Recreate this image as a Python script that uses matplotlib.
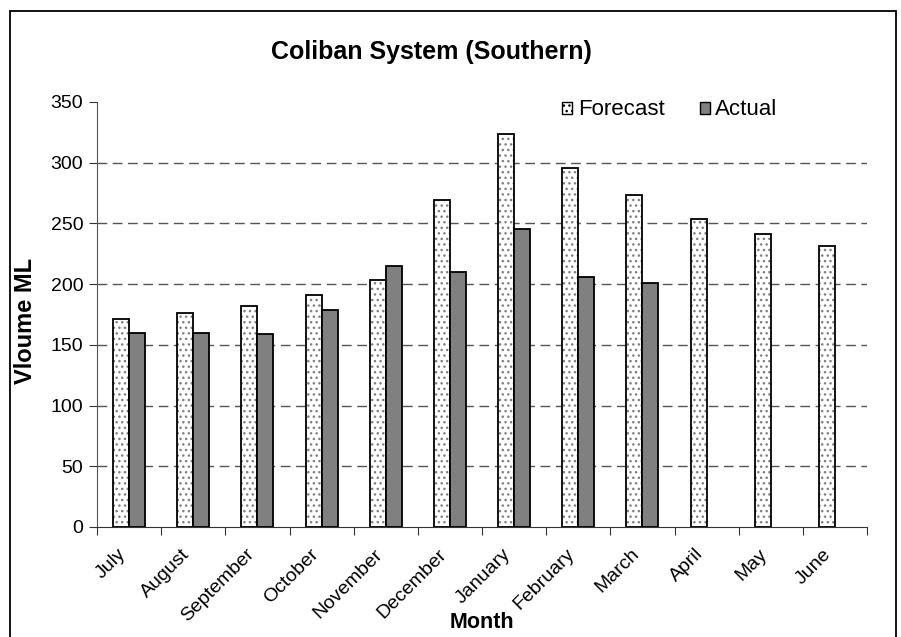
import numpy as np
import matplotlib.pyplot as plt
from matplotlib.patches import Rectangle, Patch

months = ["July", "August", "September", "October", "November", "December",
          "January", "February", "March", "April", "May", "June"]
forecast = [171, 176, 182, 191, 203, 269, 324, 296, 273, 254, 241, 231]
actual = [160, 160, 159, 179, 215, 210, 245, 206, 201, None, None, None]

plt.rcParams['font.family'] = ['Liberation Sans', 'DejaVu Sans']

fig = plt.figure(figsize=(9.01, 6.37), dpi=100)
ax = fig.add_axes([0.1077, 0.1727, 0.8546, 0.6672])

x = np.arange(len(months))
w = 0.25
fx = x + 0.375
ax_pos = [(i + 0.625, v) for i, v in enumerate(actual) if v is not None]

# forecast: dotted fill in grey, then black outline on top
ax.bar(fx, forecast, width=w, color='white', hatch='...', edgecolor='#808080',
       linewidth=0, zorder=3)
ax.bar(fx, forecast, width=w, fill=False, edgecolor='black', linewidth=1.3, zorder=4)
ax.bar([p[0] for p in ax_pos], [p[1] for p in ax_pos], width=w, color='#808080',
       edgecolor='black', linewidth=1.3, zorder=4)

ax.set_xlim(0, 12)
ax.set_ylim(0, 350)
ax.set_yticks(range(0, 351, 50))
for yv in range(50, 301, 50):
    ax.axhline(yv, color='#555555', linestyle=(0, (7, 4)), linewidth=1, zorder=1)

ax.set_xticks(np.arange(0, 13))
ax.set_xticklabels([])
ax.set_xticks(x + 0.5, minor=True)
ax.set_xticklabels(months, minor=True, rotation=45, ha='right', va='bottom',
                   rotation_mode='anchor', fontsize=14)
ax.tick_params(axis='x', which='minor', length=0, pad=22)
ax.tick_params(axis='x', which='major', length=6, direction='out', color='#333333')
ax.tick_params(axis='y', length=6, direction='out', labelsize=14, color='#333333', pad=4)

for s in ['top', 'right']:
    ax.spines[s].set_visible(False)
ax.spines['left'].set_color('#555555')
ax.spines['bottom'].set_color('#333333')

ax.set_ylabel('Vloume ML', fontsize=17, fontweight='bold')
ax.yaxis.set_label_coords(-0.078, 0.485)
ax.set_xlabel('Month', fontsize=15.5, fontweight='bold')
ax.xaxis.set_label_coords(0.5, -0.2)
fig.text(0.479, 0.918, 'Coliban System (Southern)', fontsize=18, fontweight='bold',
         ha='center', va='center')

handles = [Patch(facecolor='white', hatch='...', edgecolor='black', linewidth=1),
           Patch(facecolor='#808080', edgecolor='black', linewidth=1)]
ax.legend(handles, ['Forecast', 'Actual'], loc='upper left',
          bbox_to_anchor=(0.578, 1.053), ncol=2, frameon=False, fontsize=16,
          handlelength=0.45, handleheight=0.45, handletextpad=0.25, columnspacing=1.58)

fig.patches.append(Rectangle((10 / 901, -0.01), 886 / 901, 1 - 11 / 637 + 0.01,
                             transform=fig.transFigure, fill=False,
                             edgecolor='black', linewidth=1.3))

fig.savefig('out.png', dpi=100)
